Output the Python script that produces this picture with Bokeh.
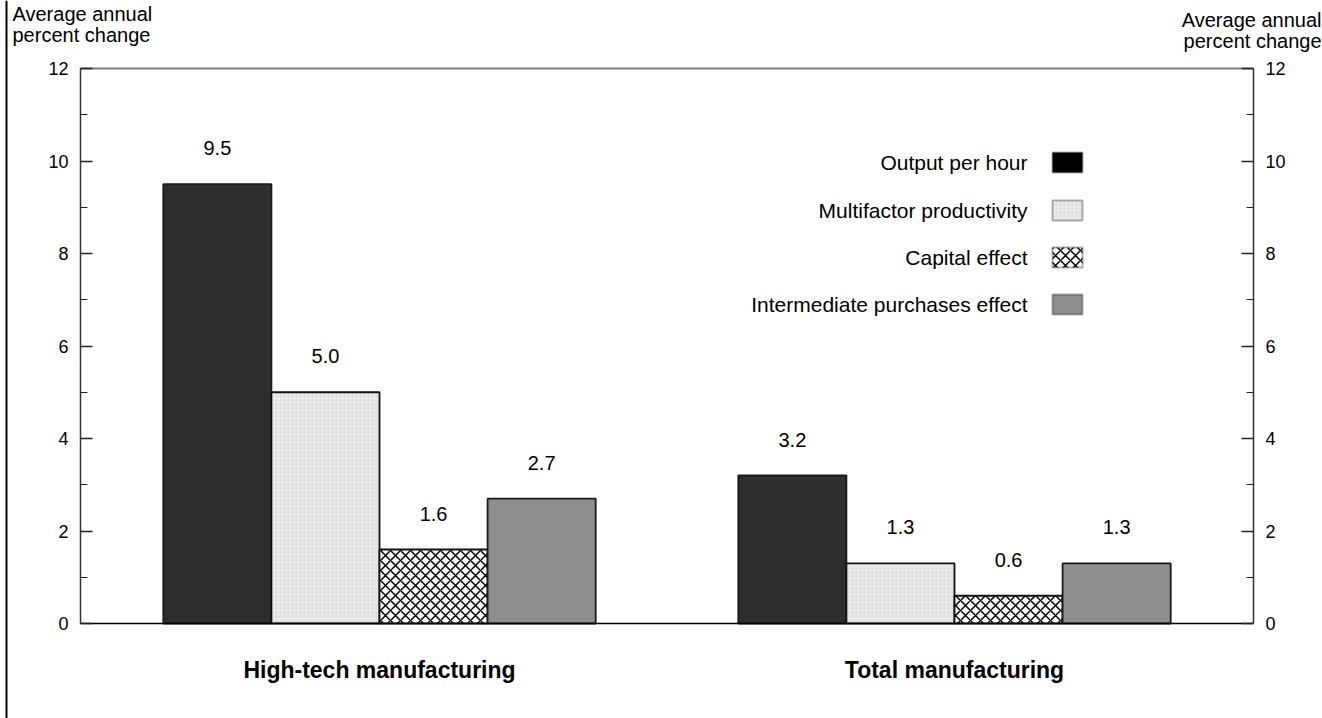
from bokeh.plotting import figure
from bokeh.models import Range1d, LinearAxis, FixedTicker, Label, BoxAnnotation, Span
from bokeh.core.properties import value
from bokeh.embed import file_html
from bokeh.resources import INLINE

# ---- data ----
groups = ["High-tech manufacturing", "Total manufacturing"]
series = ["Output per hour", "Multifactor productivity", "Capital effect",
          "Intermediate purchases effect"]
output_per_hour = [9.5, 3.2]
multifactor_productivity = [5.0, 1.3]
capital_effect = [1.6, 0.6]
intermediate_effect = [2.7, 1.3]
values_by_series = [output_per_hour, multifactor_productivity, capital_effect, intermediate_effect]
y_ticks = [0, 2, 4, 6, 8, 10, 12]
y_minor = [1, 3, 5, 7, 9, 11]
y_title = ["Average annual", "percent change"]

# ---- layout (pixels) ----
W, H = 1322, 718
FRAME_L, FRAME_R, FRAME_T, FRAME_B = 80, 1253, 68, 623
Y_MIN, Y_MAX = 0, 12
X_MIN, X_MAX = -0.52, 1.52
BAR_W = 0.188
px_y = (FRAME_B - FRAME_T) / (Y_MAX - Y_MIN)
px_x = (FRAME_R - FRAME_L) / (X_MAX - X_MIN)

FONT = "Liberation Sans"

styles = [
    dict(fill_color="#2e2e2e", line_color="#1a1a1a"),
    dict(fill_color="#e2e2e2", hatch_pattern="dot", hatch_color="#f8f8f8",
         hatch_scale=4, hatch_weight=1.2, line_color="#111111"),
    dict(fill_color="white", hatch_pattern="diagonal_cross", hatch_color="black",
         hatch_scale=10, hatch_weight=1.5, line_color="#111111"),
    dict(fill_color="#8e8e8e", line_color="#1a1a1a"),
]

p = figure(width=W, height=H, output_backend="svg", toolbar_location=None,
           x_range=Range1d(X_MIN - FRAME_L / px_x, X_MAX + (W - FRAME_R) / px_x),
           y_range=Range1d(Y_MIN - (H - FRAME_B) / px_y, Y_MAX + FRAME_T / px_y),
           x_axis_type=None, y_axis_type=None,
           min_border_left=0, min_border_right=0, min_border_top=0, min_border_bottom=0)
p.outline_line_color = None
p.background_fill_color = "white"
p.border_fill_color = "white"

for j, (name, vals) in enumerate(zip(series, values_by_series)):
    xs = [i + (j - 1.5) * BAR_W for i in range(len(groups))]
    p.vbar(x=xs, top=vals, bottom=0, width=BAR_W, line_width=1.8, **styles[j])
    p.text(x=xs, y=vals, text=[f"{v:.1f}" for v in vals], y_offset=-36,
           text_align="center", text_baseline="middle",
           text_font=value(FONT), text_font_size="20px", text_color="black")

def yaxis(loc):
    return LinearAxis(fixed_location=loc, bounds=(Y_MIN, Y_MAX),
                      ticker=FixedTicker(ticks=y_ticks, minor_ticks=y_minor),
                      major_tick_in=12, major_tick_out=0, minor_tick_in=7, minor_tick_out=0,
                      major_label_standoff=12, axis_line_color="#333333", axis_line_width=1.5,
                      major_tick_line_color="#222222", minor_tick_line_color="#222222",
                      major_tick_line_width=1.5, minor_tick_line_width=1.2,
                      major_label_text_font=FONT, major_label_text_font_size="18px",
                      major_label_text_color="black")

p.add_layout(yaxis(X_MIN), "left")
p.add_layout(yaxis(X_MAX), "right")

xax = LinearAxis(fixed_location=Y_MIN, bounds=(X_MIN, X_MAX),
                 ticker=FixedTicker(ticks=list(range(len(groups))), minor_ticks=[]),
                 major_label_overrides={i: g for i, g in enumerate(groups)},
                 major_tick_line_color=None, minor_tick_line_color=None,
                 major_tick_in=0, major_tick_out=0, major_label_standoff=33,
                 axis_line_color="black", axis_line_width=1.5,
                 major_label_text_font=FONT, major_label_text_font_style="bold",
                 major_label_text_font_size="23px", major_label_text_color="black")
p.add_layout(xax, "below")

top = LinearAxis(fixed_location=Y_MAX, bounds=(X_MIN, X_MAX),
                 ticker=FixedTicker(ticks=[], minor_ticks=[]),
                 axis_line_color="#7f7f7f", axis_line_width=2)
p.add_layout(top, "above")

# axis titles (screen units measured from canvas bottom-left)
for k, t in enumerate(y_title):
    p.add_layout(Label(x=12, y=H - (13 + 21 * k), x_units="screen", y_units="screen", text=t,
                       text_align="left", text_baseline="middle", text_font=FONT,
                       text_font_size="20px", text_color="black"))
    p.add_layout(Label(x=W - 1, y=H - (19 + 21 * k), x_units="screen", y_units="screen", text=t,
                       text_align="right", text_baseline="middle", text_font=FONT,
                       text_font_size="20px", text_color="black"))

# legend (text left of swatch)
legend_styles = [
    dict(fill_color="black", line_color="black"),
    dict(fill_color="#e2e2e2", hatch_pattern="dot", hatch_color="#f8f8f8",
         hatch_scale=4, hatch_weight=1.2, line_color="black"),
    dict(fill_color="white", hatch_pattern="diagonal_cross", hatch_color="black",
         hatch_scale=10, hatch_weight=1.5, line_color="black"),
    dict(fill_color="#8e8e8e", line_color="black"),
]
legend_rows = [162, 210, 257, 304]
for k, name in enumerate(series):
    yc = H - legend_rows[k]
    p.add_layout(Label(x=1027, y=yc, x_units="screen", y_units="screen", text=name,
                       text_align="right", text_baseline="middle", text_font=FONT,
                       text_font_size="21px", text_color="black"))
    p.add_layout(BoxAnnotation(left=1052, right=1082, bottom=yc - 10, top=yc + 10,
                               left_units="screen", right_units="screen",
                               bottom_units="screen", top_units="screen",
                               fill_alpha=1, line_width=2, **legend_styles[k]))

# left page border line
p.add_layout(Span(location=6, location_units="screen", dimension="height",
                  line_color="black", line_width=2))

open("out.html", "w").write(file_html(p, INLINE))
